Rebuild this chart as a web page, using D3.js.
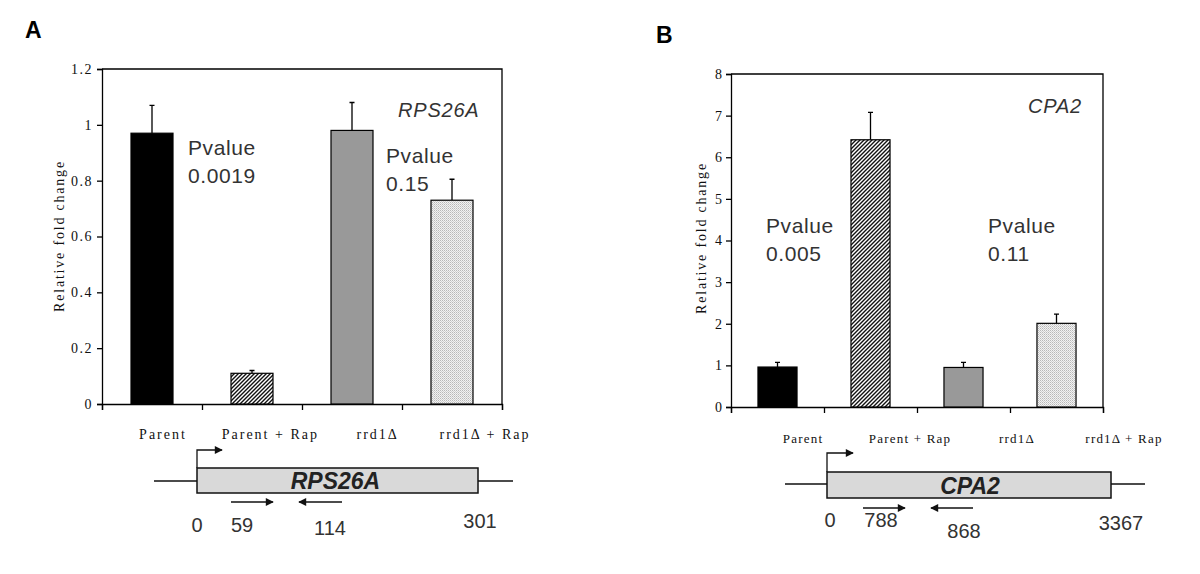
<!DOCTYPE html>
<html>
<head>
<meta charset="utf-8">
<script src="https://cdn.jsdelivr.net/npm/d3@7"></script>
<style>
  body { margin: 0; background: #fff; }
  svg { display: block; }
</style>
</head>
<body>
<div id="chart"></div>
<script>
// data
const categories = ["Parent", "Parent + Rap", "rrd1Δ", "rrd1Δ + Rap"];
const fills = ["black", "hatch", "gray", "dots"];

const rpsValues = [0.97, 0.11, 0.98, 0.73];
const rpsErrors = [0.10, 0.01, 0.10, 0.075];
const rpsTicks = [0, 0.2, 0.4, 0.6, 0.8, 1, 1.2];
const rpsPvalues = ["0.0019", "0.15"];
const rpsSites = ["0", "59", "114", "301"];

const cpaValues = [0.96, 6.42, 0.95, 2.01];
const cpaErrors = [0.11, 0.66, 0.12, 0.22];
const cpaTicks = [0, 1, 2, 3, 4, 5, 6, 7, 8];
const cpaPvalues = ["0.005", "0.11"];
const cpaSites = ["0", "788", "868", "3367"];

const SERIF = "'Liberation Serif', 'Times New Roman', serif";
const SANS = "'Liberation Sans', Arial, sans-serif";

const width = 1200, height = 574;
const svg = d3.select("#chart").append("svg")
  .attr("width", width).attr("height", height);

const defs = svg.append("defs");
const hatch = defs.append("pattern")
  .attr("id", "hatch").attr("patternUnits", "userSpaceOnUse")
  .attr("width", 4).attr("height", 4);
hatch.append("rect").attr("width", 4).attr("height", 4).attr("fill", "#fff");
hatch.append("path")
  .attr("d", "M-1,1 l2,-2 M0,4 l4,-4 M3,5 l2,-2")
  .attr("stroke", "#111").attr("stroke-width", 1.4);

const dots = defs.append("pattern")
  .attr("id", "dots").attr("patternUnits", "userSpaceOnUse")
  .attr("width", 2).attr("height", 2);
dots.append("rect").attr("width", 2).attr("height", 2).attr("fill", "#f2f2f2");
dots.append("rect").attr("width", 1).attr("height", 1).attr("fill", "#b8b8b8");
dots.append("rect").attr("x", 1).attr("y", 1).attr("width", 1).attr("height", 1).attr("fill", "#d0d0d0");

defs.append("marker")
  .attr("id", "head").attr("markerUnits", "userSpaceOnUse")
  .attr("viewBox", "0 0 10 10").attr("refX", 9).attr("refY", 5)
  .attr("markerWidth", 10).attr("markerHeight", 8).attr("orient", "auto")
  .append("path").attr("d", "M0,0 L10,5 L0,10 z").attr("fill", "#111");

const fillOf = (f) => f === "black" ? "#000" : f === "gray" ? "#999" : `url(#${f})`;

const drawPanel = (cfg) => {
  const g = svg.append("g");

  g.append("text")
    .attr("x", cfg.letter[0]).attr("y", cfg.letter[1])
    .style("font-family", SANS)
    .attr("font-weight", "bold").attr("font-size", 23)
    .text(cfg.letterText);

  const x = d3.scaleBand().domain(categories)
    .range([cfg.left, cfg.right]).paddingInner(0.58).paddingOuter(0.29);
  const y = d3.scaleLinear().domain(cfg.domain).range([cfg.bottom, cfg.top]);

  // frame: top and right
  g.append("path")
    .attr("d", `M${cfg.left},${cfg.top}H${cfg.right}V${cfg.bottom}`)
    .attr("fill", "none").attr("stroke", "#000").attr("stroke-width", 1.3);

  const yAxis = g.append("g")
    .attr("transform", `translate(${cfg.left},0)`)
    .call(d3.axisLeft(y).tickValues(cfg.ticks).tickSize(5).tickPadding(4)
      .tickFormat((d) => String(d)));
  yAxis.select(".domain").attr("stroke-width", 1.3);
  yAxis.selectAll("line").attr("stroke-width", 1.3);
  yAxis.selectAll("text")
    .style("font-family", SERIF)
    .style("font-size", "14px").attr("letter-spacing", cfg.tickSpacing)
    .attr("fill", "#111");

  // bottom axis with ticks at the category boundaries
  const bounds = d3.range(categories.length + 1);
  const xb = d3.scaleLinear().domain([0, categories.length]).range([cfg.left, cfg.right]);
  const xAxis = g.append("g")
    .attr("transform", `translate(0,${cfg.bottom})`)
    .call(d3.axisBottom(xb).tickValues(bounds).tickSize(6).tickFormat(""));
  xAxis.select(".domain").attr("stroke-width", 1.3);
  xAxis.selectAll("line").attr("stroke-width", 1.3);

  // category labels
  const xl = d3.scalePoint().domain(categories).range(cfg.labelRange);
  g.selectAll(".cat").data(categories).join("text")
    .attr("x", (d) => xl(d)).attr("y", cfg.labelY)
    .attr("text-anchor", "middle")
    .style("font-family", SERIF)
    .style("font-size", cfg.labelSize + "px").attr("letter-spacing", cfg.labelSpacing)
    .attr("fill", "#111")
    .text((d) => d);

  g.append("text")
    .attr("transform", `translate(${cfg.ylabel[0]},${cfg.ylabel[1]}) rotate(-90)`)
    .attr("text-anchor", "middle")
    .style("font-family", SERIF)
    .style("font-size", "14px").attr("letter-spacing", 1.8).attr("fill", "#111")
    .text("Relative fold change");

  const rows = categories.map((c, i) => ({ c, v: cfg.values[i], e: cfg.errors[i], f: fills[i] }));

  // error bars (drawn before bars so the bar edge sits on top)
  g.selectAll(".err").data(rows).join("path")
    .attr("d", (d) => {
      const cx = x(d.c) + x.bandwidth() / 2;
      return `M${cx},${y(d.v)}V${y(d.v + d.e)}M${cx - 2.5},${y(d.v + d.e)}H${cx + 2.5}`;
    })
    .attr("stroke", "#000").attr("stroke-width", 1.3).attr("fill", "none");

  g.selectAll(".bar").data(rows).join("rect")
    .attr("x", (d) => x(d.c)).attr("width", x.bandwidth())
    .attr("y", (d) => y(d.v)).attr("height", (d) => y(0) - y(d.v))
    .attr("fill", (d) => fillOf(d.f))
    .attr("stroke", "#000").attr("stroke-width", 1.2);

  g.append("text")
    .attr("x", cfg.gene[0]).attr("y", cfg.gene[1])
    .style("font-family", SANS)
    .attr("font-style", "italic").attr("font-size", 20)
    .attr("letter-spacing", 0.8).attr("fill", "#333")
    .text(cfg.geneName);

  cfg.pvalues.forEach((p, i) => {
    const [px, py] = cfg.pPos[i];
    const t = g.append("text")
      .style("font-family", SANS)
      .attr("font-size", 21).attr("letter-spacing", 0.6).attr("fill", "#333");
    t.append("tspan").attr("x", px).attr("y", py).text("Pvalue");
    t.append("tspan").attr("x", px).attr("y", py + 28).text(p);
  });

  // gene schematic
  const s = cfg.schema;
  g.append("path")
    .attr("d", `M${s.x0},${s.line}H${s.bx0}M${s.bx1},${s.line}H${s.x1}`)
    .attr("stroke", "#111").attr("stroke-width", 1.3);
  g.append("rect")
    .attr("x", s.bx0).attr("y", s.by0)
    .attr("width", s.bx1 - s.bx0).attr("height", s.by1 - s.by0)
    .attr("fill", "#d9d9d9").attr("stroke", "#111").attr("stroke-width", 1.5);
  g.append("path")
    .attr("d", `M${s.bx0},${s.by0}V${s.prom[1]}H${s.prom[0]}`)
    .attr("fill", "none").attr("stroke", "#111").attr("stroke-width", 1.3)
    .attr("marker-end", "url(#head)");
  s.primers.forEach(([a, b]) => {
    g.append("path")
      .attr("d", `M${a},${s.primerY}H${b}`)
      .attr("stroke", "#111").attr("stroke-width", 1.3)
      .attr("marker-end", "url(#head)");
  });
  g.append("text")
    .attr("x", (s.bx0 + s.bx1) / 2 + s.nameDx).attr("y", s.nameY)
    .attr("text-anchor", "middle")
    .style("font-family", SANS)
    .attr("font-style", "italic").attr("font-weight", "bold")
    .attr("font-size", 23).attr("fill", "#222")
    .text(cfg.geneName);
  cfg.sites.forEach((lab, i) => {
    g.append("text")
      .attr("x", s.sitePos[i][0]).attr("y", s.sitePos[i][1])
      .attr("text-anchor", "middle")
      .style("font-family", SANS)
      .attr("font-size", 20).attr("fill", "#333")
      .text(lab);
  });
};

drawPanel({
  letterText: "A", letter: [25, 38],
  left: 102, right: 502, top: 69, bottom: 404,
  domain: [0, 1.2], ticks: rpsTicks, tickSpacing: 1.5,
  values: rpsValues, errors: rpsErrors,
  labelRange: [163, 485], labelY: 439, labelSize: 14, labelSpacing: 2,
  ylabel: [64, 236],
  geneName: "RPS26A", gene: [398, 117],
  pvalues: rpsPvalues, pPos: [[188, 155], [386, 163]],
  sites: rpsSites,
  schema: {
    x0: 154, x1: 513, bx0: 197, bx1: 478, by0: 468, by1: 493, line: 481,
    prom: [222, 450], primerY: 502, primers: [[231, 273], [342, 299]],
    nameDx: -2, nameY: 489,
    sitePos: [[197, 532], [242, 532], [330, 535], [480, 528]]
  }
});

drawPanel({
  letterText: "B", letter: [656, 43],
  left: 731, right: 1103, top: 74, bottom: 407,
  domain: [0, 8], ticks: cpaTicks, tickSpacing: 0,
  values: cpaValues, errors: cpaErrors,
  labelRange: [803, 1124], labelY: 443, labelSize: 13, labelSpacing: 1.2,
  ylabel: [706, 238],
  geneName: "CPA2", gene: [1028, 113],
  pvalues: cpaPvalues, pPos: [[766, 233], [988, 233]],
  sites: cpaSites,
  schema: {
    x0: 785, x1: 1145, bx0: 827, bx1: 1111, by0: 472, by1: 498, line: 484,
    prom: [853, 453], primerY: 508, primers: [[863, 905], [973, 931]],
    nameDx: 1, nameY: 494,
    sitePos: [[830, 527], [881, 527], [964, 538], [1121, 530]]
  }
});
</script>
</body>
</html>
